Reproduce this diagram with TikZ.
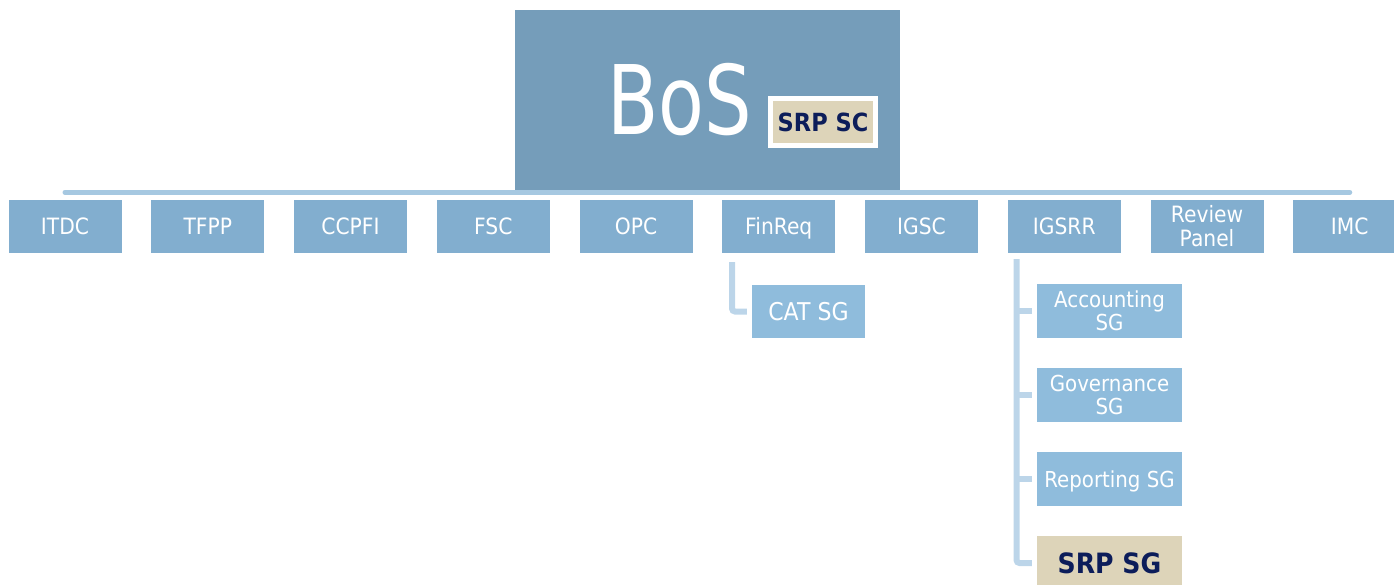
\documentclass[tikz,border=0pt]{standalone}
\usepackage{fontspec}
\setmainfont{DejaVu Sans}[FakeStretch=0.9]
\newfontfamily\bosfont{DejaVu Sans}[FakeStretch=0.78]
\definecolor{bosblue}{HTML}{759DBA}
\definecolor{childblue}{HTML}{82AECF}
\definecolor{subblue}{HTML}{8FBCDC}
\definecolor{beige}{HTML}{DDD4B9}
\definecolor{navy}{HTML}{0C1D5A}
\definecolor{barcol}{HTML}{A6C8E1}
\definecolor{subcol}{HTML}{BCD5E9}
\begin{document}
\begin{tikzpicture}[x=1pt,y=-1pt,
  childbox/.style={fill=childblue, text=white, minimum width=113pt, minimum height=53pt, inner sep=0pt, align=center, font=\fontsize{22.5}{24}\selectfont},
  onechild/.style={childbox, text height=16.4pt, text depth=0pt},
  subbox/.style={fill=subblue, text=white, minimum width=145pt, minimum height=54pt, inner sep=0pt, align=center, font=\fontsize{22}{23}\selectfont},
  hibox/.style={fill=beige, text=navy, inner sep=0pt, align=center},
  barline/.style={draw=barcol, line width=5pt, line cap=round},
  subline/.style={draw=subcol, line width=6pt, rounded corners=3pt}]
\useasboundingbox (0,0) rectangle (1394,585);
% top box
\node[fill=bosblue, minimum width=385pt, minimum height=180pt, inner sep=0pt] (bos) at (707.5,100) {};
\node[anchor=base west, inner sep=0pt, text=white, font=\bosfont\fontsize{96}{96}\selectfont] (bostext) at (607,135) {BoS};
\node[hibox, draw=white, line width=5pt, minimum width=105pt, minimum height=47pt, text height=18.2pt, text depth=0pt, font=\bfseries\fontsize{25}{25}\selectfont] (srpsc) at (823,122) {SRP SC};
% children
\node[onechild] (itdc) at (65,226.5) {ITDC};
\node[onechild] (tfpp) at (207.75,226.5) {TFPP};
\node[onechild] (ccpfi) at (350.5,226.5) {CCPFI};
\node[onechild] (fsc) at (493.25,226.5) {FSC};
\node[onechild] (opc) at (636,226.5) {OPC};
\node[onechild] (finreq) at (778.75,226.5) {FinReq};
\node[onechild] (igsc) at (921.5,226.5) {IGSC};
\node[onechild] (igsrr) at (1064.25,226.5) {IGSRR};
\node[childbox] (review) at (1207,226.5) {Review\\Panel};
\node[onechild] (imc) at (1349.75,226.5) {IMC};
% sub boxes
\node[childbox, fill=subblue, text height=17.9pt, text depth=0pt, font=\fontsize{24.5}{26}\selectfont] (catsg) at (808.5,311.5) {CAT SG};
\node[subbox] (acc) at (1109.5,311) {Accounting\\SG};
\node[subbox] (gov) at (1109.5,395) {Governance\\SG};
\node[subbox, text height=16pt, text depth=0pt] (rep) at (1109.5,479) {Reporting SG};
\node[subbox, hibox, text height=20.4pt, text depth=0pt, font=\bfseries\fontsize{28}{28}\selectfont] (srpsg) at (1109.5,563) {SRP SG};
% connectors
\draw[barline] ([yshift=7.5pt]itdc.north) -- ([yshift=7.5pt]imc.north);
\draw[subline] ([xshift=-46.75pt,yshift=-9pt]finreq.south) |- ([xshift=-5pt]catsg.west);
\coordinate (gtop) at ([xshift=-47.75pt,yshift=-6pt]igsrr.south);
\draw[subline] (gtop) |- ([xshift=-5pt]srpsg.west);
\foreach \n in {acc,gov,rep} \draw[subline] (gtop |- \n.west) -- ([xshift=-5pt]\n.west);
\end{tikzpicture}
\end{document}
